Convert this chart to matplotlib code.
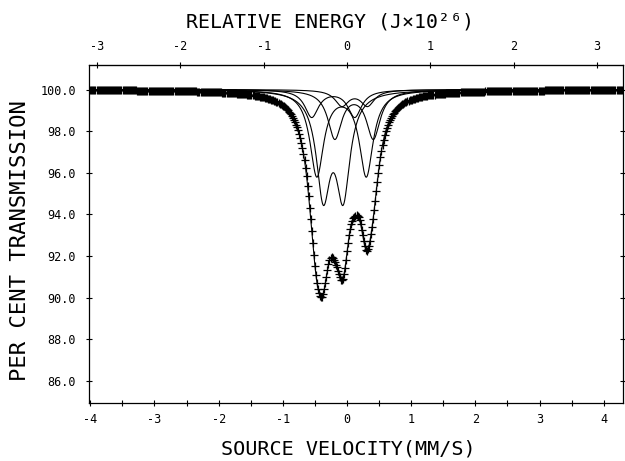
import matplotlib
matplotlib.use('Agg')
import matplotlib.pyplot as plt
import numpy as np
from matplotlib.ticker import MultipleLocator, FormatStrFormatter

# Ajuste Mössbauer: 5 dobletes lorentzianos
linea_izq = [-0.37, -0.47, -0.19, -0.55, -0.08]     # mm/s
linea_der = [-0.06, 0.30, 0.41, 0.12, 0.32]         # mm/s
profundidad = [4.84, 4.1, 2.3, 1.3, 0.75]           # % de absorción
semiancho = [0.13, 0.13, 0.13, 0.13, 0.13]          # HWHM, mm/s

# canales del espectrómetro
v_min, v_max, n_canales = -4.0, 4.28, 512

# escala superior: 1 mm/s = 0.7702 x 10^-26 J (57Fe, 14.4 keV)
mms_a_J = 0.7702

y_ticks = [86.0, 88.0, 90.0, 92.0, 94.0, 96.0, 98.0, 100.0]
e_ticks = [-3, -2, -1, 0, 1, 2, 3]

plt.rcParams['font.family'] = ['DejaVu Sans Mono', 'DejaVu Sans']
plt.rcParams['axes.unicode_minus'] = False


def lorentz(v, c, d, g):
    return d * g**2 / ((v - c)**2 + g**2)


def doblete(v, i):
    return (lorentz(v, linea_izq[i], profundidad[i], semiancho[i]) +
            lorentz(v, linea_der[i], profundidad[i], semiancho[i]))


v_canal = np.linspace(v_min, v_max, n_canales)
v_fino = np.linspace(v_min, v_max, 2000)

total_canal = 100 - sum(doblete(v_canal, i) for i in range(len(linea_izq)))
total_fino = 100 - sum(doblete(v_fino, i) for i in range(len(linea_izq)))

fig = plt.figure(figsize=(6.25, 4.61), dpi=100)
ax = fig.add_axes([0.1424, 0.1258, 0.8544, 0.7332])

# componentes
for i in range(len(linea_izq)):
    ax.plot(v_fino, 100 - doblete(v_fino, i), color='black', linewidth=0.8)

# ajuste total y puntos medidos
ax.plot(v_fino, total_fino, color='black', linewidth=0.8)
ax.plot(v_canal, total_canal, linestyle='none', marker='+', color='black',
        markersize=5.5, markeredgewidth=0.9)

ax.set_xlim(-4.02, 4.3)
ax.set_ylim(84.93, 101.18)

ax.xaxis.set_major_locator(MultipleLocator(1))
ax.xaxis.set_minor_locator(MultipleLocator(0.5))
ax.xaxis.set_major_formatter(FormatStrFormatter('%d'))
ax.set_yticks(y_ticks)
ax.yaxis.set_major_formatter(FormatStrFormatter('%.1f'))

ax.tick_params(axis='both', which='both', direction='inout', length=5,
               width=0.8, labelsize=8.5)
ax.tick_params(axis='x', which='both', pad=5)
ax.tick_params(axis='y', pad=7, right=True)

for s in ax.spines.values():
    s.set_linewidth(0.9)

# eje superior de energía
sec = ax.secondary_xaxis('top', functions=(lambda v: v * mms_a_J,
                                           lambda e: e / mms_a_J))
sec.set_xticks(e_ticks)
sec.xaxis.set_major_formatter(FormatStrFormatter('%d'))
sec.tick_params(direction='inout', length=5, width=0.8, labelsize=8.5, pad=6)

ax.set_xlabel('SOURCE VELOCITY(MM/S)', fontsize=14.5)
ax.xaxis.label.set_va('center')
ax.xaxis.set_label_coords(0.485, -0.135)

ax.set_ylabel('PER CENT TRANSMISSION', fontsize=16)
ax.yaxis.label.set_va('center')
ax.yaxis.set_label_coords(-0.13, 0.48)

fig.text(0.528, 0.952, 'RELATIVE ENERGY (J×10²⁶)', ha='center', va='center',
         fontsize=14.3)

plt.savefig('out.png', dpi=100)
